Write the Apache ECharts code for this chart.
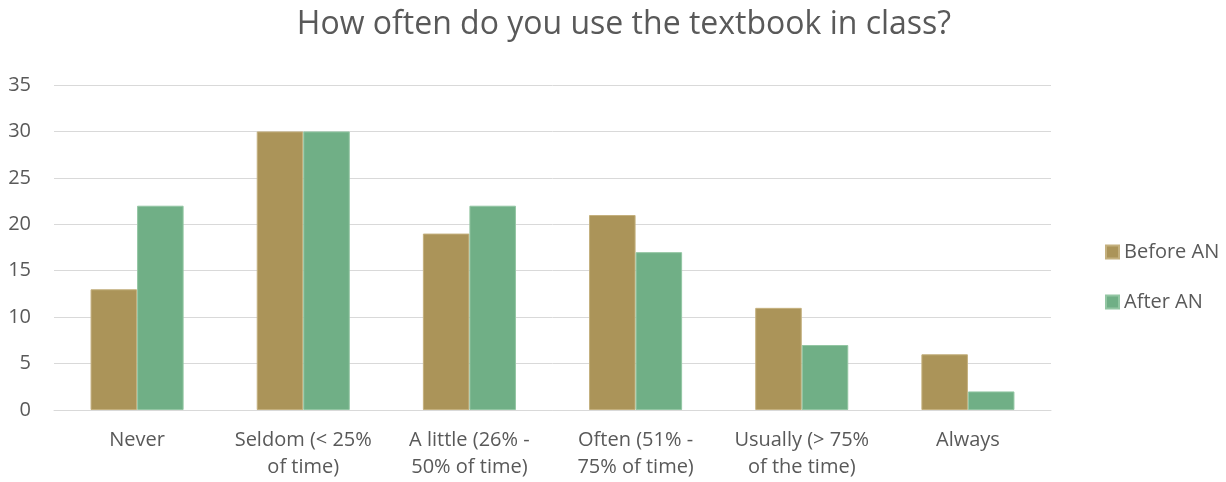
<!DOCTYPE html>
<html><head><meta charset="utf-8">
<script src="https://cdn.jsdelivr.net/npm/echarts@6/dist/echarts.min.js"></script>
<style>html,body{margin:0;padding:0;background:#fff}#c{width:1226px;height:482px}</style>
</head><body><div id="c"></div>
<script>
const categories = ["Never", "Seldom (< 25%\nof time)", "A little (26% -\n50% of time)", "Often (51% -\n75% of time)", "Usually (> 75%\nof the time)", "Always"];
const beforeAN = [13, 30, 19, 21, 11, 6];
const afterAN = [22, 30, 22, 17, 7, 2];
const yTicks = { min: 0, max: 35, interval: 5 };
const FONT = "'Open Sans', 'Noto Sans', sans-serif";
const chart = echarts.init(document.getElementById('c'));
chart.setOption({
  animation: false,
  textStyle: { fontFamily: FONT },
  title: { text: 'How often do you use the textbook in class?', left: 619, top: 4, textAlign: 'center',
    textStyle: { fontSize: 32, fontWeight: 'normal', color: '#595959', fontFamily: FONT } },
  legend: { orient: 'vertical', left: 1100, top: 237, itemWidth: 13, itemHeight: 13, itemGap: 30,
    icon: 'rect', textStyle: { fontSize: 20, color: '#595959', fontFamily: FONT },
    data: ['Before AN', 'After AN'] },
  grid: { left: 54, right: 175, top: 85, bottom: 72, containLabel: false },
  xAxis: { type: 'category', data: categories,
    axisLine: { lineStyle: { color: '#D9D9D9' } }, axisTick: { show: false },
    axisLabel: { fontSize: 20, color: '#595959', lineHeight: 27, margin: 17, interval: 0, fontFamily: FONT } },
  yAxis: { type: 'value', min: yTicks.min, max: yTicks.max, interval: yTicks.interval,
    axisLine: { show: false }, axisTick: { show: false },
    splitLine: { lineStyle: { color: '#D9D9D9', width: 1 } },
    axisLabel: { fontSize: 20, color: '#595959', margin: 23, fontFamily: FONT } },
  series: [
    { name: 'Before AN', type: 'bar', data: beforeAN, barWidth: '28%', barGap: '0%',
      itemStyle: { color: '#AB9459', borderColor: '#C4B07E', borderWidth: 1 } },
    { name: 'After AN', type: 'bar', data: afterAN, barWidth: '28%', barGap: '0%',
      itemStyle: { color: '#70AF86', borderColor: '#93C6A3', borderWidth: 1 } }
  ]
});
</script></body></html>
